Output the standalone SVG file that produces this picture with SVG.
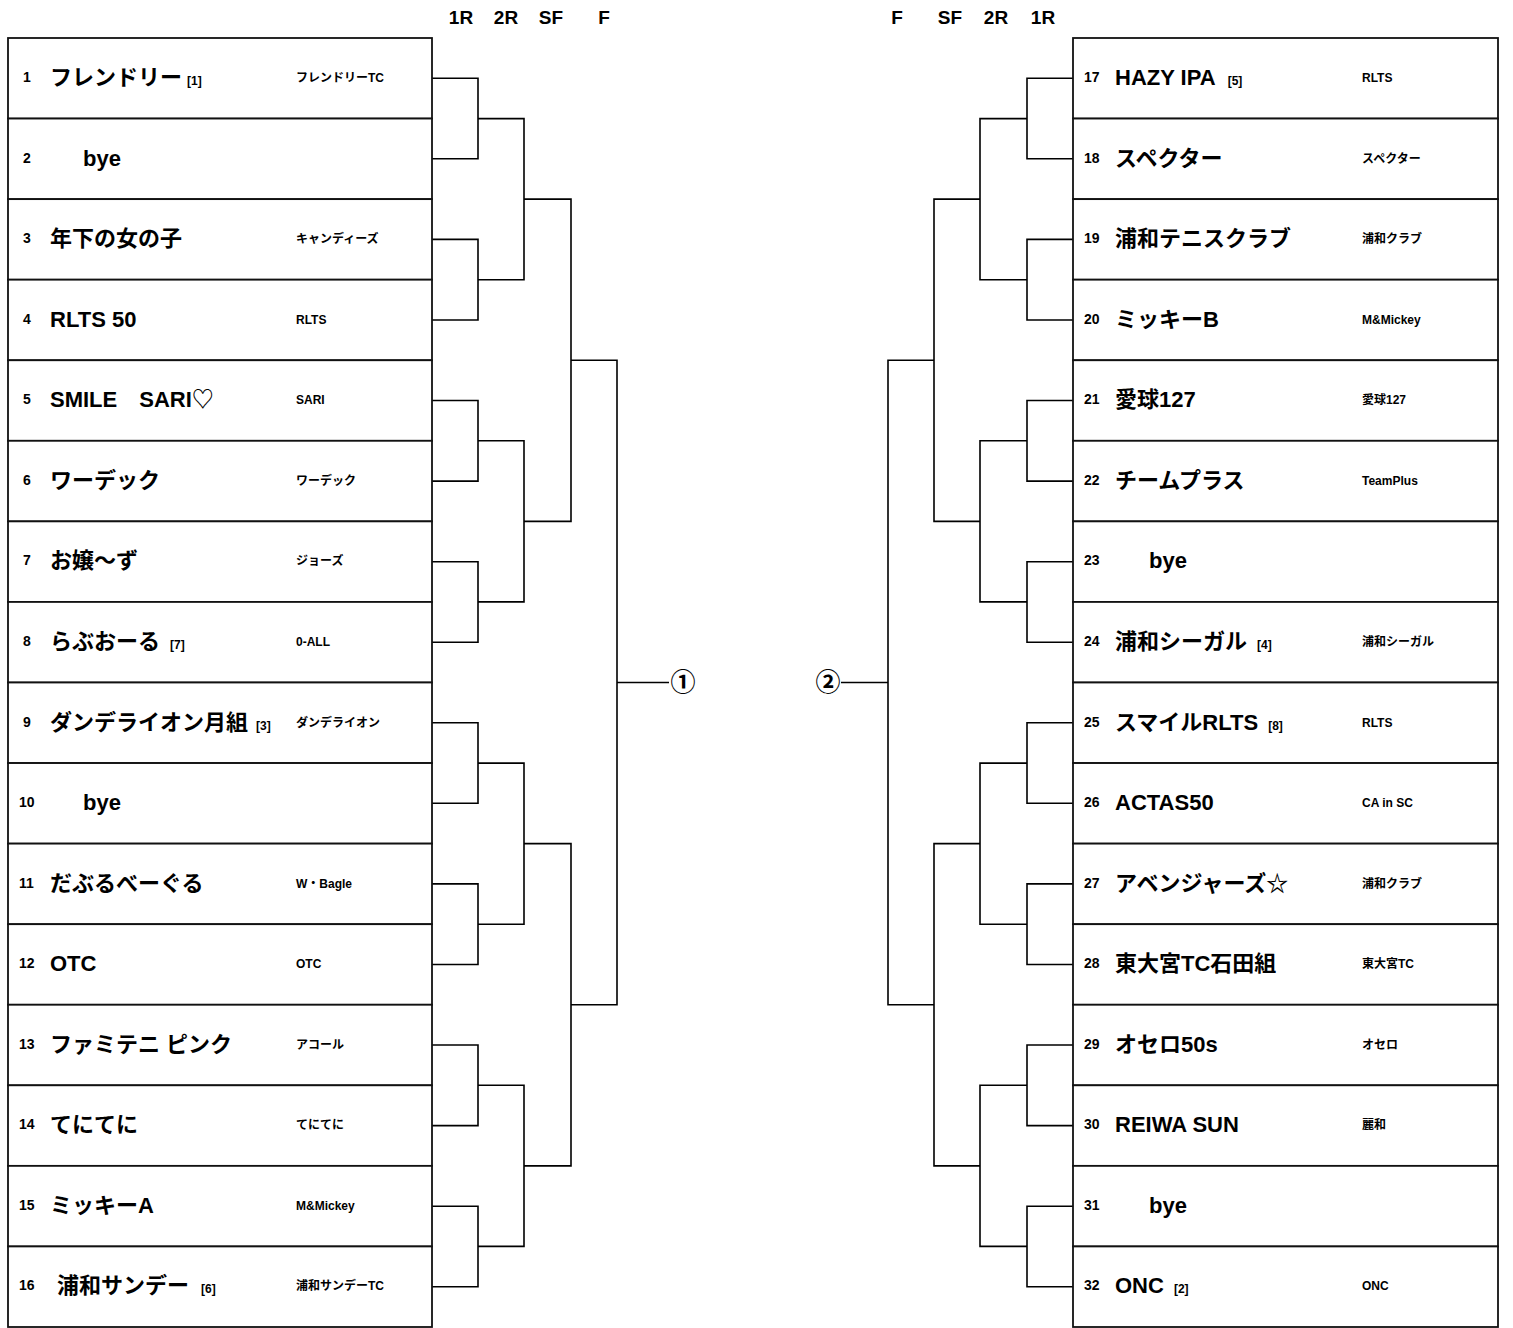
<svg xmlns="http://www.w3.org/2000/svg" width="1513" height="1328" viewBox="0 0 1513 1328">
<style>
text{font-family:"Liberation Sans","Noto Sans CJK JP",sans-serif;font-weight:bold;fill:#000}
.row{fill:#fff;stroke:#111;stroke-width:1.8}
.no{font-size:14px}
.nm{font-size:22px}
.sd{font-size:12px}
.cl{font-size:12px}
.hd{font-size:19px;text-anchor:middle}
.ci{font-size:25px;text-anchor:middle}
.br{fill:none;stroke:#000;stroke-width:1.6}
</style>
<rect width="1513" height="1328" fill="#fff"/>
<g id="headers">
<text class="hd" x="461" y="24">1R</text>
<text class="hd" x="506" y="24">2R</text>
<text class="hd" x="551" y="24">SF</text>
<text class="hd" x="604" y="24">F</text>
<text class="hd" x="897" y="24">F</text>
<text class="hd" x="950" y="24">SF</text>
<text class="hd" x="996" y="24">2R</text>
<text class="hd" x="1043" y="24">1R</text>
</g>
<g id="connectors" class="br">
<path d="M432 78.3H478V158.8H432M432 239.4H478V320H432M432 400.5H478V481.1H432M432 561.7H478V642.2H432M432 722.8H478V803.3H432M432 883.9H478V964.5H432M432 1045H478V1125.6H432M432 1206.2H478V1286.7H432"/>
<path d="M478 118.6H524V279.7H478M478 440.8H524V601.9H478M478 763.1H524V924.2H478M478 1085.3H524V1246.4H478"/>
<path d="M524 199.1H571V521.4H524M524 843.6H571V1165.9H524"/>
<path d="M571 360.3H617V1004.8H571M617 682.5H669"/>
<path d="M1073 78.3H1027V158.8H1073M1073 239.4H1027V320H1073M1073 400.5H1027V481.1H1073M1073 561.7H1027V642.2H1073M1073 722.8H1027V803.3H1073M1073 883.9H1027V964.5H1073M1073 1045H1027V1125.6H1073M1073 1206.2H1027V1286.7H1073"/>
<path d="M1027 118.6H980V279.7H1027M1027 440.8H980V601.9H1027M1027 763.1H980V924.2H1027M1027 1085.3H980V1246.4H1027"/>
<path d="M980 199.1H934V521.4H980M980 843.6H934V1165.9H980"/>
<path d="M934 360.3H888V1004.8H934M888 682.5H841"/>
</g>
<g id="final1"><text class="ci" x="683" y="691">①</text></g>
<g id="final2"><text class="ci" x="828" y="691">②</text></g>

<g id="n1" transform="translate(8,38)"><rect class="row" width="424" height="80.56"/><text class="no" x="15" y="44">1</text><text class="nm" x="42" y="47">フレンドリー<tspan class="sd" dx="5">[1]</tspan></text><text class="cl" x="288" y="44">フレンドリーTC</text></g>
<g id="n2" transform="translate(8,118.56)"><rect class="row" width="424" height="80.56"/><text class="no" x="15" y="44">2</text><text class="nm" x="75" y="47">bye</text></g>
<g id="n3" transform="translate(8,199.13)"><rect class="row" width="424" height="80.56"/><text class="no" x="15" y="44">3</text><text class="nm" x="42" y="47">年下の女の子</text><text class="cl" x="288" y="44">キャンディーズ</text></g>
<g id="n4" transform="translate(8,279.69)"><rect class="row" width="424" height="80.56"/><text class="no" x="15" y="44">4</text><text class="nm" x="42" y="47">RLTS 50</text><text class="cl" x="288" y="44">RLTS</text></g>
<g id="n5" transform="translate(8,360.25)"><rect class="row" width="424" height="80.56"/><text class="no" x="15" y="44">5</text><text class="nm" x="42" y="47">SMILE　SARI♡</text><text class="cl" x="288" y="44">SARI</text></g>
<g id="n6" transform="translate(8,440.81)"><rect class="row" width="424" height="80.56"/><text class="no" x="15" y="44">6</text><text class="nm" x="42" y="47">ワーデック</text><text class="cl" x="288" y="44">ワーデック</text></g>
<g id="n7" transform="translate(8,521.38)"><rect class="row" width="424" height="80.56"/><text class="no" x="15" y="44">7</text><text class="nm" x="42" y="47">お嬢～ず</text><text class="cl" x="288" y="44">ジョーズ</text></g>
<g id="n8" transform="translate(8,601.94)"><rect class="row" width="424" height="80.56"/><text class="no" x="15" y="44">8</text><text class="nm" x="42" y="47">らぶおーる<tspan class="sd" dx="10">[7]</tspan></text><text class="cl" x="288" y="44">0-ALL</text></g>
<g id="n9" transform="translate(8,682.5)"><rect class="row" width="424" height="80.56"/><text class="no" x="15" y="44">9</text><text class="nm" x="42" y="47">ダンデライオン月組<tspan class="sd" dx="8">[3]</tspan></text><text class="cl" x="288" y="44">ダンデライオン</text></g>
<g id="n10" transform="translate(8,763.06)"><rect class="row" width="424" height="80.56"/><text class="no" x="11" y="44">10</text><text class="nm" x="75" y="47">bye</text></g>
<g id="n11" transform="translate(8,843.63)"><rect class="row" width="424" height="80.56"/><text class="no" x="11" y="44">11</text><text class="nm" x="42" y="47">だぶるべーぐる</text><text class="cl" x="288" y="44">W・Bagle</text></g>
<g id="n12" transform="translate(8,924.19)"><rect class="row" width="424" height="80.56"/><text class="no" x="11" y="44">12</text><text class="nm" x="42" y="47">OTC</text><text class="cl" x="288" y="44">OTC</text></g>
<g id="n13" transform="translate(8,1004.75)"><rect class="row" width="424" height="80.56"/><text class="no" x="11" y="44">13</text><text class="nm" x="42" y="47">ファミテニ ピンク</text><text class="cl" x="288" y="44">アコール</text></g>
<g id="n14" transform="translate(8,1085.31)"><rect class="row" width="424" height="80.56"/><text class="no" x="11" y="44">14</text><text class="nm" x="42" y="47">てにてに</text><text class="cl" x="288" y="44">てにてに</text></g>
<g id="n15" transform="translate(8,1165.88)"><rect class="row" width="424" height="80.56"/><text class="no" x="11" y="44">15</text><text class="nm" x="42" y="47">ミッキーA</text><text class="cl" x="288" y="44">M&amp;Mickey</text></g>
<g id="n16" transform="translate(8,1246.44)"><rect class="row" width="424" height="80.56"/><text class="no" x="11" y="44">16</text><text class="nm" x="49" y="47">浦和サンデー<tspan class="sd" dx="12">[6]</tspan></text><text class="cl" x="288" y="44">浦和サンデーTC</text></g>

<g id="n17" transform="translate(1073,38)"><rect class="row" width="425" height="80.56"/><text class="no" x="11" y="44">17</text><text class="nm" x="42" y="47">HAZY IPA<tspan class="sd" dx="12">[5]</tspan></text><text class="cl" x="289" y="44">RLTS</text></g>
<g id="n18" transform="translate(1073,118.56)"><rect class="row" width="425" height="80.56"/><text class="no" x="11" y="44">18</text><text class="nm" x="42" y="47">スペクター</text><text class="cl" x="289" y="44">スペクター</text></g>
<g id="n19" transform="translate(1073,199.13)"><rect class="row" width="425" height="80.56"/><text class="no" x="11" y="44">19</text><text class="nm" x="42" y="47">浦和テニスクラブ</text><text class="cl" x="289" y="44">浦和クラブ</text></g>
<g id="n20" transform="translate(1073,279.69)"><rect class="row" width="425" height="80.56"/><text class="no" x="11" y="44">20</text><text class="nm" x="42" y="47">ミッキーB</text><text class="cl" x="289" y="44">M&amp;Mickey</text></g>
<g id="n21" transform="translate(1073,360.25)"><rect class="row" width="425" height="80.56"/><text class="no" x="11" y="44">21</text><text class="nm" x="42" y="47">愛球127</text><text class="cl" x="289" y="44">愛球127</text></g>
<g id="n22" transform="translate(1073,440.81)"><rect class="row" width="425" height="80.56"/><text class="no" x="11" y="44">22</text><text class="nm" x="42" y="47">チームプラス</text><text class="cl" x="289" y="44">TeamPlus</text></g>
<g id="n23" transform="translate(1073,521.38)"><rect class="row" width="425" height="80.56"/><text class="no" x="11" y="44">23</text><text class="nm" x="76" y="47">bye</text></g>
<g id="n24" transform="translate(1073,601.94)"><rect class="row" width="425" height="80.56"/><text class="no" x="11" y="44">24</text><text class="nm" x="42" y="47">浦和シーガル<tspan class="sd" dx="10">[4]</tspan></text><text class="cl" x="289" y="44">浦和シーガル</text></g>
<g id="n25" transform="translate(1073,682.5)"><rect class="row" width="425" height="80.56"/><text class="no" x="11" y="44">25</text><text class="nm" x="42" y="47">スマイルRLTS<tspan class="sd" dx="10">[8]</tspan></text><text class="cl" x="289" y="44">RLTS</text></g>
<g id="n26" transform="translate(1073,763.06)"><rect class="row" width="425" height="80.56"/><text class="no" x="11" y="44">26</text><text class="nm" x="42" y="47">ACTAS50</text><text class="cl" x="289" y="44">CA in SC</text></g>
<g id="n27" transform="translate(1073,843.63)"><rect class="row" width="425" height="80.56"/><text class="no" x="11" y="44">27</text><text class="nm" x="42" y="47">アベンジャーズ☆</text><text class="cl" x="289" y="44">浦和クラブ</text></g>
<g id="n28" transform="translate(1073,924.19)"><rect class="row" width="425" height="80.56"/><text class="no" x="11" y="44">28</text><text class="nm" x="42" y="47">東大宮TC石田組</text><text class="cl" x="289" y="44">東大宮TC</text></g>
<g id="n29" transform="translate(1073,1004.75)"><rect class="row" width="425" height="80.56"/><text class="no" x="11" y="44">29</text><text class="nm" x="42" y="47">オセロ50s</text><text class="cl" x="289" y="44">オセロ</text></g>
<g id="n30" transform="translate(1073,1085.31)"><rect class="row" width="425" height="80.56"/><text class="no" x="11" y="44">30</text><text class="nm" x="42" y="47">REIWA SUN</text><text class="cl" x="289" y="44">麗和</text></g>
<g id="n31" transform="translate(1073,1165.88)"><rect class="row" width="425" height="80.56"/><text class="no" x="11" y="44">31</text><text class="nm" x="76" y="47">bye</text></g>
<g id="n32" transform="translate(1073,1246.44)"><rect class="row" width="425" height="80.56"/><text class="no" x="11" y="44">32</text><text class="nm" x="42" y="47">ONC<tspan class="sd" dx="10">[2]</tspan></text><text class="cl" x="289" y="44">ONC</text></g>
</svg>
